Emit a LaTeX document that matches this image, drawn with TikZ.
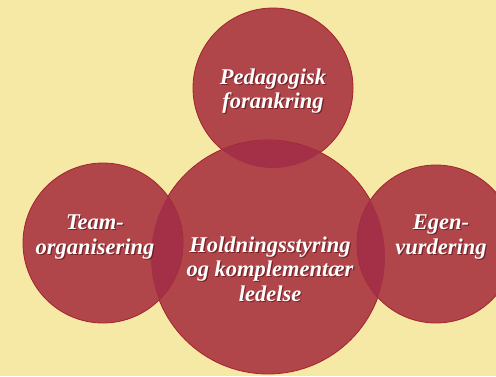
\documentclass[tikz,border=0pt]{standalone}
\usepackage{fontspec}
\newfontfamily\lblfont{Liberation Serif Bold Italic}
\definecolor{paper}{RGB}{245,233,165}
\definecolor{disc}{RGB}{176,70,74}
\definecolor{lens}{RGB}{164,48,72}
\definecolor{rim}{RGB}{165,34,46}
\definecolor{shade}{RGB}{90,20,25}
\tikzset{
  disc/.style={circle, fill=disc, draw=rim, line width=0.8pt, inner sep=0pt},
  lbl/.style={align=center, text=white, font=\lblfont\fontsize{22.5}{24.5}\selectfont},
  lblshadow/.style={lbl, text=shade, opacity=0.7}
}
\newcommand\shadowlabel[3]{%
  \node[lblshadow] at ([shift={(1.2,1.2)}]#2) {#3};
  \node[lbl] (#1) at (#2) {#3};}
\begin{document}
\begin{tikzpicture}[x=1pt,y=-1pt]
\fill[paper] (0,0) rectangle (496,376);
\useasboundingbox (0,0) rectangle (496,376);
\begin{scope}
\clip (0,0) rectangle (496,376);
\coordinate (cT) at (273,88);
\coordinate (cC) at (268,257);
\coordinate (cL) at (103,243);
\coordinate (cR) at (436,244);
\node[disc, minimum size=160pt] (top) at (cT) {};
\node[disc, minimum size=234pt] (mid) at (cC) {};
\node[disc, minimum size=160pt] (left) at (cL) {};
\node[disc, minimum size=158pt] (right) at (cR) {};
% overlapping lenses
\begin{scope}
\clip (cC) circle (117);
\fill[lens] (cT) circle (80);
\fill[lens] (cL) circle (80);
\fill[lens] (cR) circle (79);
\end{scope}
\end{scope}
\shadowlabel{tpeda}{273,91}{Pedagogisk\\forankring}
\shadowlabel{tteam}{95,237}{Team-\\organisering}
\shadowlabel{thold}{270,269}{Holdningsstyring\\og komplementær\\ledelse}
\shadowlabel{tegen}{441,237}{Egen-\\vurdering}
\end{tikzpicture}
\end{document}
